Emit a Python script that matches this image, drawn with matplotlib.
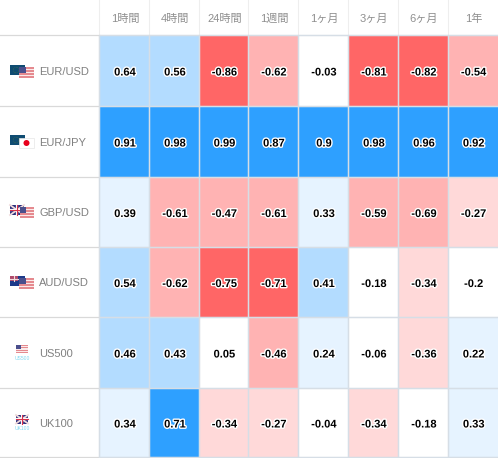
#!/usr/bin/env python3
import matplotlib
matplotlib.use("Agg")
import matplotlib.pyplot as plt
import matplotlib.patheffects as pe
from matplotlib.colors import ListedColormap, BoundaryNorm
from matplotlib.patches import Rectangle, Circle
import numpy as np

plt.rcParams["font.family"] = ["Liberation Sans", "Noto Sans CJK JP", "DejaVu Sans"]

periods = ["1時間", "4時間", "24時間", "1週間", "1ヶ月", "3ヶ月", "6ヶ月", "1年"]
symbols = ["EUR/USD", "EUR/JPY", "GBP/USD", "AUD/USD", "US500", "UK100"]

eur_usd = [0.64, 0.56, -0.86, -0.62, -0.03, -0.81, -0.82, -0.54]
eur_jpy = [0.91, 0.98, 0.99, 0.87, 0.9, 0.98, 0.96, 0.92]
gbp_usd = [0.39, -0.61, -0.47, -0.61, 0.33, -0.59, -0.69, -0.27]
aud_usd = [0.54, -0.62, -0.75, -0.71, 0.41, -0.18, -0.34, -0.2]
us500 = [0.46, 0.43, 0.05, -0.46, 0.24, -0.06, -0.36, 0.22]
uk100 = [0.34, 0.71, -0.34, -0.27, -0.04, -0.34, -0.18, 0.33]

values = np.array([eur_usd, eur_jpy, gbp_usd, aud_usd, us500, uk100])

# table grid in pixels
col_edges = [99.5, 149.5, 199.5, 248.5, 298.5, 348.5, 398.5, 448.5, 498]
row_edges = [35.5, 106.5, 177.5, 247.5, 317.5, 388.5, 457.5]

colors = ["#ff6666", "#ffb3b3", "#ffd9d9", "#ffffff", "#e6f3ff", "#b3dcff", "#2ea0ff"]
bounds = [-1, -0.7, -0.4, -0.2, 0.2, 0.4, 0.7, 1]
cmap = ListedColormap(colors)
norm = BoundaryNorm(bounds, cmap.N)

fig = plt.figure(figsize=(4.98, 4.58), dpi=100)
ax = fig.add_axes([0, 0, 1, 1])
ax.set_xlim(0, 498)
ax.set_ylim(458, 0)
ax.axis("off")

ax.pcolormesh(col_edges, row_edges, values, cmap=cmap, norm=norm, zorder=1)

# grid lines, unsnapped so they keep the soft look of the table borders
for x in col_edges[:-1]:
    ax.plot([x, x], [0, 35.5], color="#eeeeee", lw=0.8, snap=False, zorder=0.5)
    ax.plot([x, x], [35.5, 458], color="#d6dee6", lw=1.1, snap=False, zorder=1.2,
            solid_capstyle="butt")
for y in row_edges:
    ax.plot([0, 99.5], [y, y], color="#d9d9d9", lw=0.9, snap=False, zorder=0.5)
    ax.plot([99.5, 498], [y, y], color="#d6dee6", lw=1.1, snap=False, zorder=1.2,
            solid_capstyle="butt")

outline = [pe.withStroke(linewidth=2, foreground="white")]

for j, name in enumerate(periods):
    xc = (col_edges[j] + col_edges[j + 1]) / 2
    ax.text(xc + 0.5, 18.5, name, ha="center", va="center", fontsize=8, color="#8f8f8f")

for i, sym in enumerate(symbols):
    yc = (row_edges[i] + row_edges[i + 1]) / 2
    ax.text(39, yc + 1, sym, ha="left", va="center", fontsize=8, color="#808080")
    for j, v in enumerate(values[i]):
        xc = (col_edges[j] + col_edges[j + 1]) / 2
        ax.text(xc + 0.5, yc + 1.5, f"{v:g}", ha="center", va="center", fontsize=8,
                fontweight="bold", color="black", path_effects=outline, zorder=3)


# small flag icons
def us_flag(x, y, w, h, alpha=1.0):
    ax.add_patch(Rectangle((x, y), w, h, fc="#fbeaea", ec="none", alpha=alpha, zorder=2))
    n = 7
    for k in range(0, n, 2):
        ax.add_patch(Rectangle((x, y + k * h / n), w, h / n, fc="#e58a8f", ec="none",
                               alpha=alpha, zorder=2.1))
    ax.add_patch(Rectangle((x, y), w * 0.45, h * 0.55, fc="#4a4f8c", ec="none",
                           alpha=alpha, zorder=2.2))


def eu_flag(x, y, w, h):
    ax.add_patch(Rectangle((x, y), w, h, fc="#0f4c72", ec="none", zorder=1.5))
    ax.add_patch(Circle((x + w * 0.4, y + h * 0.5), h * 0.28, fc="none", ec="#5d7f3a",
                        lw=0.4, ls=":", zorder=1.6))


def uk_flag(x, y, w, h):
    ax.add_patch(Rectangle((x, y), w, h, fc="#2b2f7e", ec="none", zorder=1.5))
    ax.plot([x, x + w], [y, y + h], color="#f0dada", lw=1.3, zorder=1.6)
    ax.plot([x, x + w], [y + h, y], color="#f0dada", lw=1.3, zorder=1.6)
    ax.plot([x + w / 2, x + w / 2], [y, y + h], color="white", lw=1.6, zorder=1.7)
    ax.plot([x, x + w], [y + h / 2, y + h / 2], color="white", lw=1.6, zorder=1.7)
    ax.plot([x + w / 2, x + w / 2], [y, y + h], color="#d8304a", lw=0.8, zorder=1.8)
    ax.plot([x, x + w], [y + h / 2, y + h / 2], color="#d8304a", lw=0.8, zorder=1.8)


def au_flag(x, y, w, h):
    ax.add_patch(Rectangle((x, y), w, h, fc="#1c3a8a", ec="none", zorder=1.5))
    uk_small = Rectangle((x, y), w / 2, h / 2, fc="#b04a6a", ec="none", zorder=1.6)
    ax.add_patch(uk_small)
    ax.plot([x + w / 4, x + w / 4], [y, y + h / 2], color="#f0dada", lw=0.8, zorder=1.7)
    ax.plot([x, x + w / 2], [y + h / 4, y + h / 4], color="#f0dada", lw=0.8, zorder=1.7)
    ax.plot([x + w * 0.75], [y + h * 0.6], "o", color="white", ms=1, zorder=1.7)


def jp_flag(x, y, w, h):
    ax.add_patch(Rectangle((x, y), w, h, fc="white", ec="#e6e6e6", lw=0.5, zorder=2))
    ax.add_patch(Circle((x + w / 2, y + h / 2), h * 0.3, fc="#e8001c", ec="none", zorder=2.1))


eu_flag(10, 65, 15, 10)
us_flag(19, 67, 15, 11)
eu_flag(10, 135, 15, 10)
jp_flag(19, 138, 15, 10)
uk_flag(10, 205, 14, 10)
us_flag(20, 207, 14, 11)
au_flag(10, 276, 15, 10)
us_flag(19, 278, 15, 11)
us_flag(16, 345, 12, 8)
uk_flag(16, 415, 12, 8.5)
ax.text(22, 358, "US500", ha="center", va="center", fontsize=3.6, color="#7fd8f0")
ax.text(22, 428, "UK100", ha="center", va="center", fontsize=3.6, color="#7fd8f0")

fig.savefig("out.png", dpi=100)
